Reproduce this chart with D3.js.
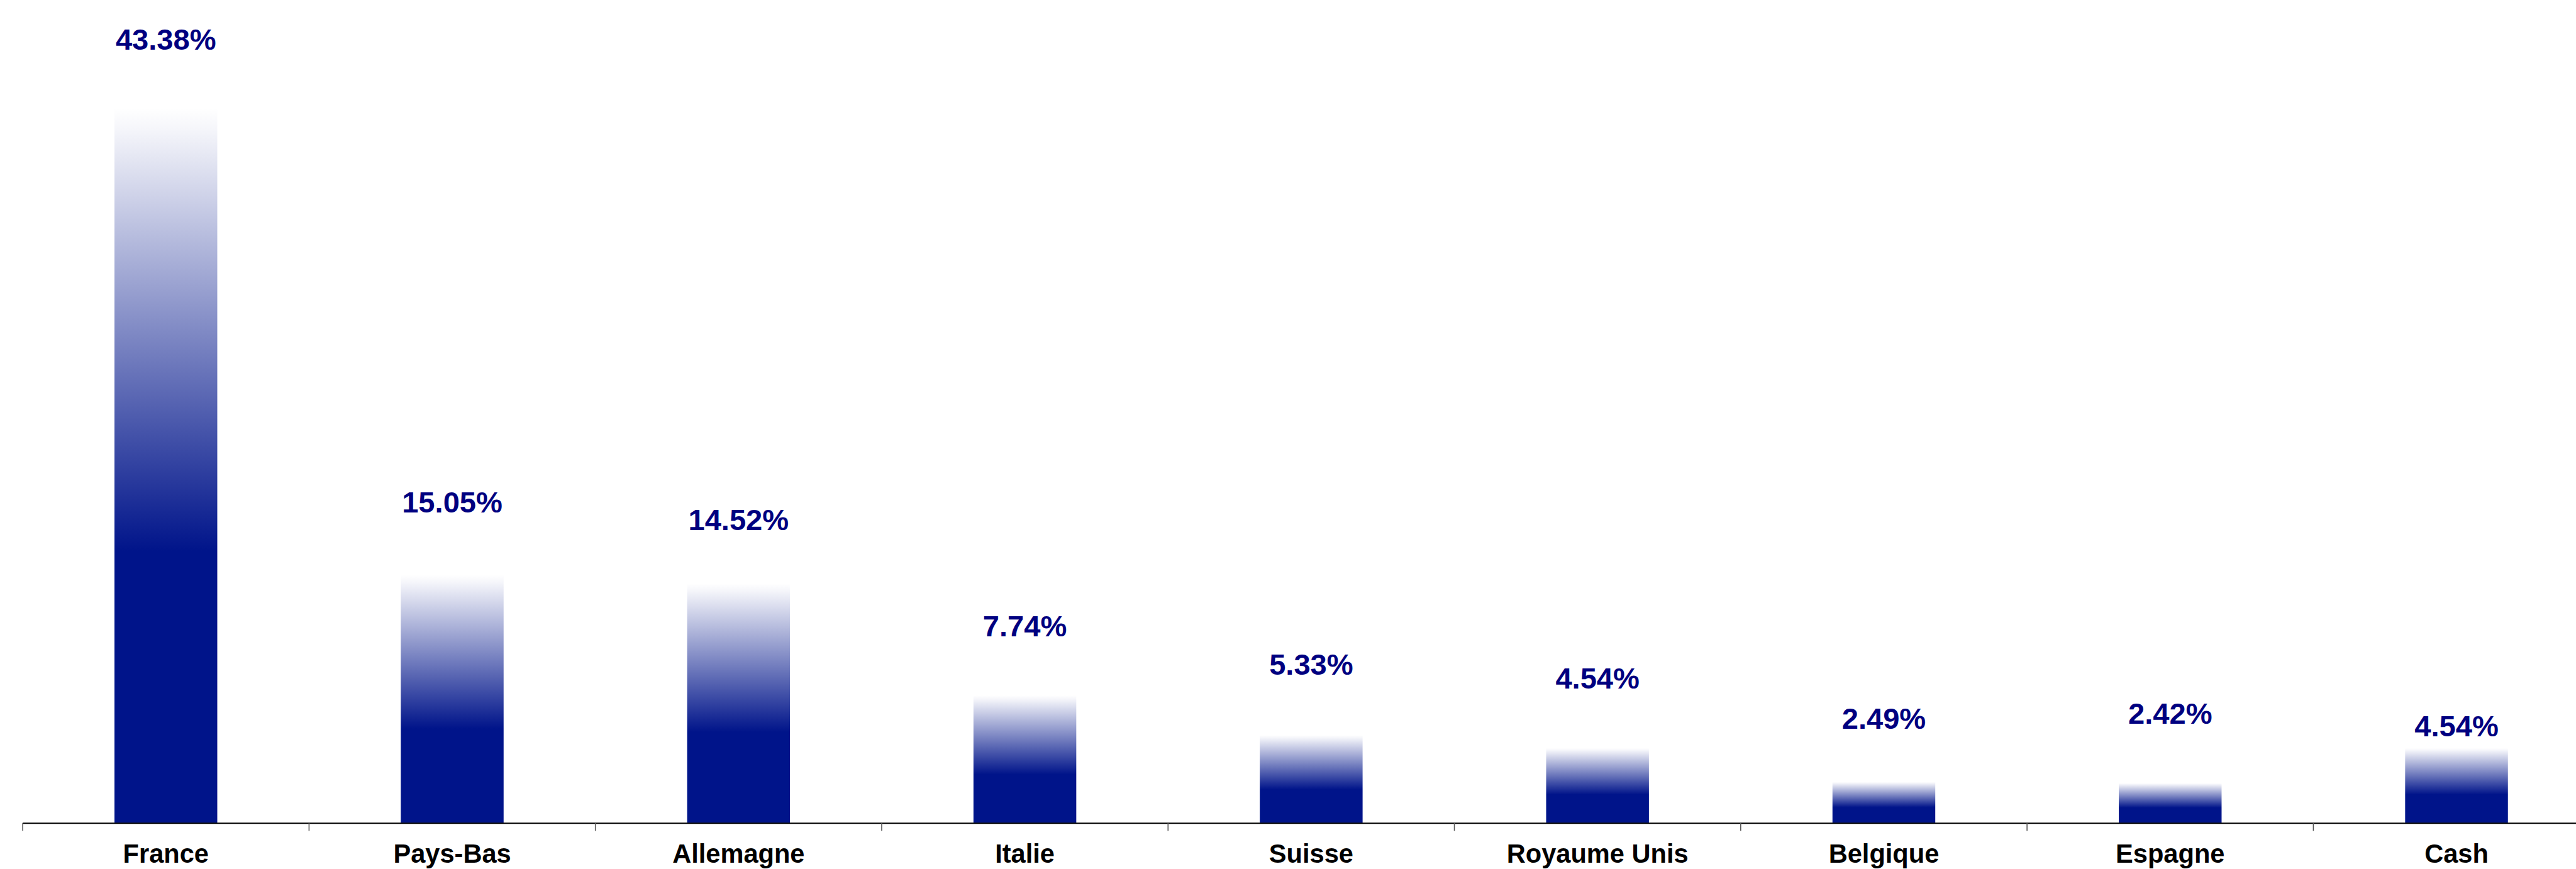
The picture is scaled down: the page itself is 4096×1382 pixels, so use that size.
<!DOCTYPE html>
<html>
<head>
<meta charset="utf-8">
<script src="https://cdn.jsdelivr.net/npm/d3@7"></script>
<style>
  html, body { margin: 0; padding: 0; background: #fff; overflow: hidden; }
  svg { display: block; }
  text { font-family: "Liberation Sans", Arial, sans-serif; font-weight: bold; }
</style>
</head>
<body>
<div id="chart"></div>
<script>
// Allocation by country (%)
const categories = ["France", "Pays-Bas", "Allemagne", "Italie", "Suisse", "Royaume Unis", "Belgique", "Espagne", "Cash"];
const values = [43.38, 15.05, 14.52, 7.74, 5.33, 4.54, 2.49, 2.42, 4.54];
// level (in % units) where each value label sits
const labelLevels = [46.92, 18.83, 17.78, 11.32, 9.01, 8.14, 5.72, 6.02, 5.24];

// drawn in the reference's own units, scaled into the window by the viewBox
const W = 5218, H = 1760;
const margin = { left: 46, bottom: 93, top: -3 };
const band = 580;

const x = d3.scaleBand()
    .domain(categories)
    .range([margin.left, margin.left + band * categories.length])
    .paddingInner(0.641)
    .paddingOuter(0.3205);

const y = d3.scaleLinear()
    .domain([0, 50])
    .range([H - margin.bottom, margin.top]);

const svg = d3.select("#chart").append("svg")
    .attr("width", 4096)
    .attr("height", 1382)
    .attr("viewBox", `0 0 ${W} ${H}`);

// fading bar fill
const grad = svg.append("defs").append("linearGradient")
    .attr("id", "barFill")
    .attr("x1", 0).attr("y1", 0)
    .attr("x2", 0).attr("y2", 1);
grad.append("stop").attr("offset", 0).attr("stop-color", "#00148a").attr("stop-opacity", 0);
grad.append("stop").attr("offset", 0.03).attr("stop-color", "#00148a").attr("stop-opacity", 0.04);
grad.append("stop").attr("offset", 0.62).attr("stop-color", "#00148a").attr("stop-opacity", 1);
grad.append("stop").attr("offset", 1).attr("stop-color", "#00148a").attr("stop-opacity", 1);

svg.append("g")
    .selectAll("rect")
    .data(values)
    .enter().append("rect")
    .attr("x", (d, i) => x(categories[i]))
    .attr("y", d => y(d))
    .attr("width", x.bandwidth())
    .attr("height", d => y(0) - y(d))
    .attr("fill", "url(#barFill)");

// value labels
svg.append("g")
    .selectAll("text")
    .data(values)
    .enter().append("text")
    .attr("x", (d, i) => x(categories[i]) + x.bandwidth() / 2)
    .attr("y", (d, i) => y(labelLevels[i]))
    .attr("text-anchor", "middle")
    .attr("fill", "#000080")
    .style("font-size", "60px")
    .text(d => d.toFixed(2) + "%");

// X axis
const xAxis = svg.append("g")
    .attr("transform", `translate(0,${y(0)})`)
    .call(d3.axisBottom(x).tickSize(0).tickSizeOuter(0));

xAxis.select(".domain")
    .attr("stroke", "#000")
    .attr("stroke-width", 2.5);

xAxis.selectAll(".tick text")
    .attr("y", 80)
    .attr("dy", null)
    .attr("fill", "#000")
    .style("font-family", "'Liberation Sans', Arial, sans-serif")
    .style("font-weight", "bold")
    .style("font-size", "53px");

// ticks between categories
const step = x.step();
xAxis.append("g")
    .selectAll("line")
    .data(categories)
    .enter().append("line")
    .attr("x1", d => x(d) - x.paddingOuter() * step)
    .attr("x2", d => x(d) - x.paddingOuter() * step)
    .attr("y1", 0)
    .attr("y2", 16)
    .attr("stroke", "#555")
    .attr("stroke-width", 2);
</script>
</body>
</html>
